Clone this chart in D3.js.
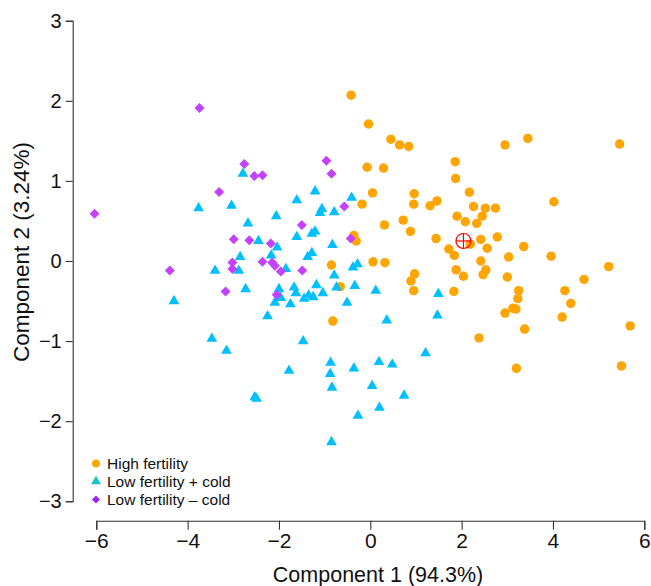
<!DOCTYPE html>
<html>
<head>
<meta charset="utf-8">
<script src="https://cdn.jsdelivr.net/npm/d3@7"></script>
<style>
  body { margin: 0; background: #fff; }
  svg { font-family: "Liberation Sans", Arial, sans-serif; }
</style>
</head>
<body>
<svg id="chart" width="651" height="586"></svg>
<script>
// group scores, [component 1, component 2]
var highFertility = [
    [-0.42, 2.07], [-0.04, 1.71], [0.45, 1.52], [0.64, 1.45], [0.84, 1.43],
    [-0.07, 1.17], [0.29, 1.16], [0.05, 0.85], [0.96, 0.84], [-0.18, 0.71],
    [0.95, 0.71], [1.31, 0.69], [1.46, 0.75], [0.31, 0.45], [0.72, 0.51],
    [0.88, 0.37], [1.44, 0.28], [1.72, 0.15], [-0.36, 0.32], [-0.31, 0.25],
    [-0.85, -0.05], [0.06, -0.01], [0.32, -0.02], [0.97, -0.16], [0.89, -0.25],
    [0.95, -0.37], [-0.66, -0.32], [-0.82, -0.75], [2.95, 1.45], [3.45, 1.53],
    [5.46, 1.46], [1.86, 1.24], [1.87, 1.03], [2.17, 0.86], [4.02, 0.74],
    [2.26, 0.68], [2.52, 0.66], [2.74, 0.66], [2.45, 0.56], [1.90, 0.56],
    [2.08, 0.49], [2.33, 0.47], [2.19, 0.21], [1.84, 0.07], [2.42, 0.27],
    [2.78, 0.30], [2.56, 0.16], [3.36, 0.18], [3.03, 0.05], [3.96, 0.06],
    [2.42, 0.00], [5.22, -0.07], [1.88, -0.11], [2.53, -0.11], [2.47, -0.17],
    [2.04, -0.19], [3.00, -0.20], [4.68, -0.23], [1.83, -0.38], [3.25, -0.37],
    [3.23, -0.47], [4.26, -0.37], [4.39, -0.53], [4.20, -0.70], [3.12, -0.59],
    [3.19, -0.60], [2.95, -0.65], [3.38, -0.85], [5.69, -0.81], [2.38, -0.96],
    [3.20, -1.34], [5.50, -1.31]
];

var lowFertilityCold = [
    [-2.79, 1.09], [-3.76, 0.66], [-3.04, 0.69], [-2.68, 0.47], [-2.45, 0.25],
    [-2.85, 0.05], [-3.40, -0.12], [-2.88, -0.12], [-2.73, -0.35], [-4.30, -0.50],
    [-3.47, -0.97], [-3.15, -1.12], [-2.53, -1.70], [-2.49, -1.72], [-1.21, 0.87],
    [-1.61, 0.76], [-0.41, 0.79], [-1.06, 0.65], [-1.10, 0.60], [-0.79, 0.61],
    [-2.06, 0.56], [-1.61, 0.30], [-1.21, 0.37], [-1.28, 0.34], [-0.83, 0.20],
    [-2.04, 0.17], [-1.28, 0.10], [-1.37, 0.05], [-2.17, 0.07], [-1.85, -0.10],
    [-0.79, -0.18], [-0.38, -0.08], [-0.28, -0.04], [-0.74, -0.33], [-0.34, -0.31],
    [0.12, -0.37], [-1.18, -0.30], [-1.04, -0.40], [-1.67, -0.33], [-1.63, -0.40],
    [-2.00, -0.35], [-1.96, -0.46], [-2.09, -0.52], [-1.75, -0.54], [-1.45, -0.47],
    [-1.25, -0.45], [-1.35, -0.43], [-0.51, -0.52], [-2.25, -0.69], [0.36, -0.74],
    [1.49, -0.41], [1.47, -0.68], [-1.47, -1.00], [-0.87, -1.27], [-1.78, -1.37],
    [-0.88, -1.41], [-0.36, -1.34], [0.19, -1.26], [0.48, -1.29], [1.21, -1.15],
    [-0.84, -1.58], [0.04, -1.56], [0.74, -1.68], [0.20, -1.83], [-0.27, -1.93],
    [-0.85, -2.26]
];

var lowFertilityNoCold = [
    [-3.74, 1.91], [-2.76, 1.21], [-2.54, 1.06], [-3.31, 0.86], [-6.04, 0.59],
    [-2.99, 0.27], [-2.65, 0.26], [-3.02, -0.02], [-3.02, -0.10], [-4.39, -0.12],
    [-2.36, -0.01], [-3.17, -0.38], [-0.96, 1.25], [-0.85, 1.09], [-2.36, 1.07],
    [-0.57, 0.68], [-1.50, 0.45], [-0.43, 0.28], [-2.18, 0.22], [-2.15, -0.02],
    [-2.09, -0.06], [-1.96, -0.13], [-1.49, -0.12], [-2.05, -0.42]
];

var centroid = [2.04, 0.25];

var xTicks = [-6, -4, -2, 0, 2, 4, 6];
var yTicks = [-3, -2, -1, 0, 1, 2, 3];
var legendLabels = ["High fertility", "Low fertility + cold", "Low fertility \u2013 cold"];

var svg = d3.select("#chart");

var x = d3.scaleLinear().domain([-6, 6]).range([96.3, 644.3]),
    y = d3.scaleLinear().domain([-3, 3]).range([501.3, 20.7]);

var minus = function (d) {
    return d < 0 ? "\u2212" + Math.abs(d) : String(d);
};

// axes, R style: detached from each other
var xAxis = svg.append("g")
    .attr("transform", "translate(0,520.7)")
    .call(d3.axisBottom(x).tickValues(xTicks).tickFormat(minus).tickSizeOuter(0).tickSize(9).tickPadding(3));

var yAxis = svg.append("g")
    .attr("transform", "translate(72.7,0)")
    .call(d3.axisLeft(y).tickValues(yTicks).tickFormat(minus).tickSizeOuter(0).tickSize(7).tickPadding(4));

[xAxis, yAxis].forEach(function (g) {
    g.selectAll("path, line").attr("stroke", "#333").attr("stroke-width", 1.1);
    g.selectAll("text").attr("fill", "#111").attr("font-family", "Liberation Sans, Arial, sans-serif");
});
xAxis.selectAll("text").attr("font-size", 21);
yAxis.selectAll("text").attr("font-size", 20);

svg.append("text")
    .attr("x", 378)
    .attr("y", 582)
    .attr("text-anchor", "middle")
    .attr("font-size", 21.5)
    .attr("fill", "#111")
    .text("Component 1 (94.3%)");

svg.append("text")
    .attr("transform", "translate(29,252) rotate(-90)")
    .attr("text-anchor", "middle")
    .attr("font-size", 22.5)
    .attr("fill", "#111")
    .text("Component 2 (3.24%)");

// points
var circle = d3.symbol().type(d3.symbolCircle).size(70),
    triangle = d3.symbol().type(d3.symbolTriangle).size(50),
    diamond = d3.symbol().type(d3.symbolSquare).size(50);

var points = svg.append("g");

points.selectAll(".high")
    .data(highFertility)
    .enter().append("path")
    .attr("class", "high")
    .attr("d", circle)
    .attr("fill", "#FFA500")
    .attr("transform", function (d) { return "translate(" + x(d[0]) + "," + y(d[1]) + ")"; });

points.selectAll(".cold")
    .data(lowFertilityCold)
    .enter().append("path")
    .attr("class", "cold")
    .attr("d", triangle)
    .attr("fill", "#00BFFF")
    .attr("transform", function (d) { return "translate(" + x(d[0]) + "," + y(d[1]) + ")"; });

points.selectAll(".nocold")
    .data(lowFertilityNoCold)
    .enter().append("path")
    .attr("class", "nocold")
    .attr("d", diamond)
    .attr("fill", "#C242FF")
    .attr("transform", function (d) { return "translate(" + x(d[0]) + "," + y(d[1]) + ") rotate(45)"; });

// centroid marker
var c = svg.append("g")
    .attr("transform", "translate(" + x(centroid[0]) + "," + y(centroid[1]) + ")")
    .attr("stroke", "#FF0000")
    .attr("stroke-width", 1.2)
    .attr("fill", "none");
c.append("circle").attr("r", 7.5);
c.append("line").attr("x1", -7.5).attr("x2", 7.5);
c.append("line").attr("y1", -7.5).attr("y2", 7.5);

// legend
var legendSymbols = [
    { shape: d3.symbolCircle, size: 50, color: "#FFA500", rot: 0 },
    { shape: d3.symbolTriangle, size: 42, color: "#19C3C8", rot: 0 },
    { shape: d3.symbolSquare, size: 32, color: "#A020F0", rot: 45 }
];

var legend = svg.append("g")
    .attr("transform", "translate(96,463.5)");

var item = legend.selectAll("g")
    .data(legendLabels)
    .enter().append("g")
    .attr("transform", function (d, i) { return "translate(0," + (i * 18) + ")"; });

item.append("path")
    .attr("d", function (d, i) { return d3.symbol().type(legendSymbols[i].shape).size(legendSymbols[i].size)(); })
    .attr("fill", function (d, i) { return legendSymbols[i].color; })
    .attr("transform", function (d, i) { return "rotate(" + legendSymbols[i].rot + ")"; });

item.append("text")
    .attr("x", 11)
    .attr("dy", "0.36em")
    .attr("font-size", 15.5)
    .attr("fill", "#111")
    .text(function (d) { return d; });
</script>
</body>
</html>
